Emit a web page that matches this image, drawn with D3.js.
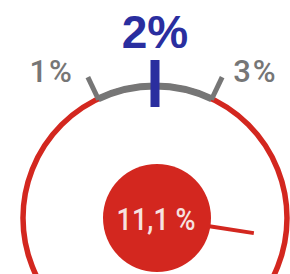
<!DOCTYPE html>
<html lang="en">
  <head>
    <meta charset="UTF-8" />
    <title>Gauge</title>
    <script src="https://d3js.org/d3.v7.min.js"></script>
    <style>
      body {
        margin: 0;
        background: #fff;
      }
      svg {
        display: block;
      }
    </style>
  </head>
  <body>
    <script>
      // gauge data
      const bandValues = [1, 3]; // target band
      const targetValue = 2;
      const actualValue = 11.1;
      const bandLabels = ["1%", "3%"];
      const targetLabel = "2%";
      const actualLabel = "11,1 %";

      const width = 290;
      const height = 274;
      const cx = 155;
      const cy = 218;
      const rOuter = 132;
      const rInner = 54;

      const red = "#d3271f";
      const gray = "#767676";
      const blue = "#2a2e9f";

      // value -> degrees clockwise from top
      const angle = d3.scaleLinear().domain([1, 2, 3, 11.1]).range([-25.5, 0, 25.5, 98.7]);

      function pt(r, deg) {
        const a = (deg * Math.PI) / 180;
        return [cx + r * Math.sin(a), cy - r * Math.cos(a)];
      }

      const svg = d3.select("body").append("svg").attr("width", width).attr("height", height);

      // outer ring
      svg
        .append("circle")
        .attr("cx", cx)
        .attr("cy", cy)
        .attr("r", rOuter)
        .attr("fill", "none")
        .attr("stroke", red)
        .attr("stroke-width", 5.5);

      // target band
      const bandArc = d3
        .arc()
        .innerRadius(rOuter - 3.5)
        .outerRadius(rOuter + 3.5)
        .startAngle((angle(bandValues[0]) * Math.PI) / 180)
        .endAngle((angle(bandValues[1]) * Math.PI) / 180);

      svg.append("path").attr("d", bandArc()).attr("transform", `translate(${cx},${cy})`).attr("fill", gray);

      // band ticks + labels
      bandValues.forEach((v, i) => {
        const a = angle(v);
        const p0 = pt(rOuter - 1, a);
        const p1 = pt(rOuter + 24, a);
        svg
          .append("line")
          .attr("x1", p0[0])
          .attr("y1", p0[1])
          .attr("x2", p1[0])
          .attr("y2", p1[1])
          .attr("stroke", gray)
          .attr("stroke-width", 5);
        svg
          .append("text")
          .attr("x", i === 0 ? p1[0] - 14 : p1[0] + 11)
          .attr("y", p1[1] + 5)
          .attr("text-anchor", i === 0 ? "end" : "start")
          .attr("fill", gray)
          .style("font-family", "Roboto, Liberation Sans, Arial, sans-serif")
          .style("font-weight", 500)
          .style("font-size", "31px")
          .style("letter-spacing", "2px")
          .text(bandLabels[i]);
      });

      // target tick
      const t0 = pt(rOuter - 21, angle(targetValue));
      const t1 = pt(rOuter + 26, angle(targetValue));
      svg
        .append("line")
        .attr("x1", t0[0])
        .attr("y1", t0[1])
        .attr("x2", t1[0])
        .attr("y2", t1[1])
        .attr("stroke", blue)
        .attr("stroke-width", 9);

      svg
        .append("text")
        .attr("x", t1[0])
        .attr("y", 48)
        .attr("text-anchor", "middle")
        .attr("fill", blue)
        .style("font-family", "Liberation Sans, Arial, sans-serif")
        .style("font-weight", "bold")
        .style("font-size", "46px")
        .text(targetLabel);

      // needle
      const n0 = pt(rInner - 4, angle(actualValue));
      const n1 = pt(100, angle(actualValue));
      svg
        .append("line")
        .attr("x1", n0[0])
        .attr("y1", n0[1])
        .attr("x2", n1[0])
        .attr("y2", n1[1])
        .attr("stroke", red)
        .attr("stroke-width", 4);

      // actual value bubble
      svg.append("circle").attr("cx", cx + 2).attr("cy", cy).attr("r", rInner).attr("fill", red);

      svg
        .append("text")
        .attr("x", cx + 1)
        .attr("y", 230)
        .attr("text-anchor", "middle")
        .attr("fill", "#f6e2e0")
        .attr("textLength", 79)
        .attr("lengthAdjust", "spacingAndGlyphs")
        .style("font-family", "Roboto, Liberation Sans, Arial, sans-serif")
        .style("font-weight", 500)
        .style("font-size", "31px")
        .text(actualLabel);
    </script>
  </body>
</html>
